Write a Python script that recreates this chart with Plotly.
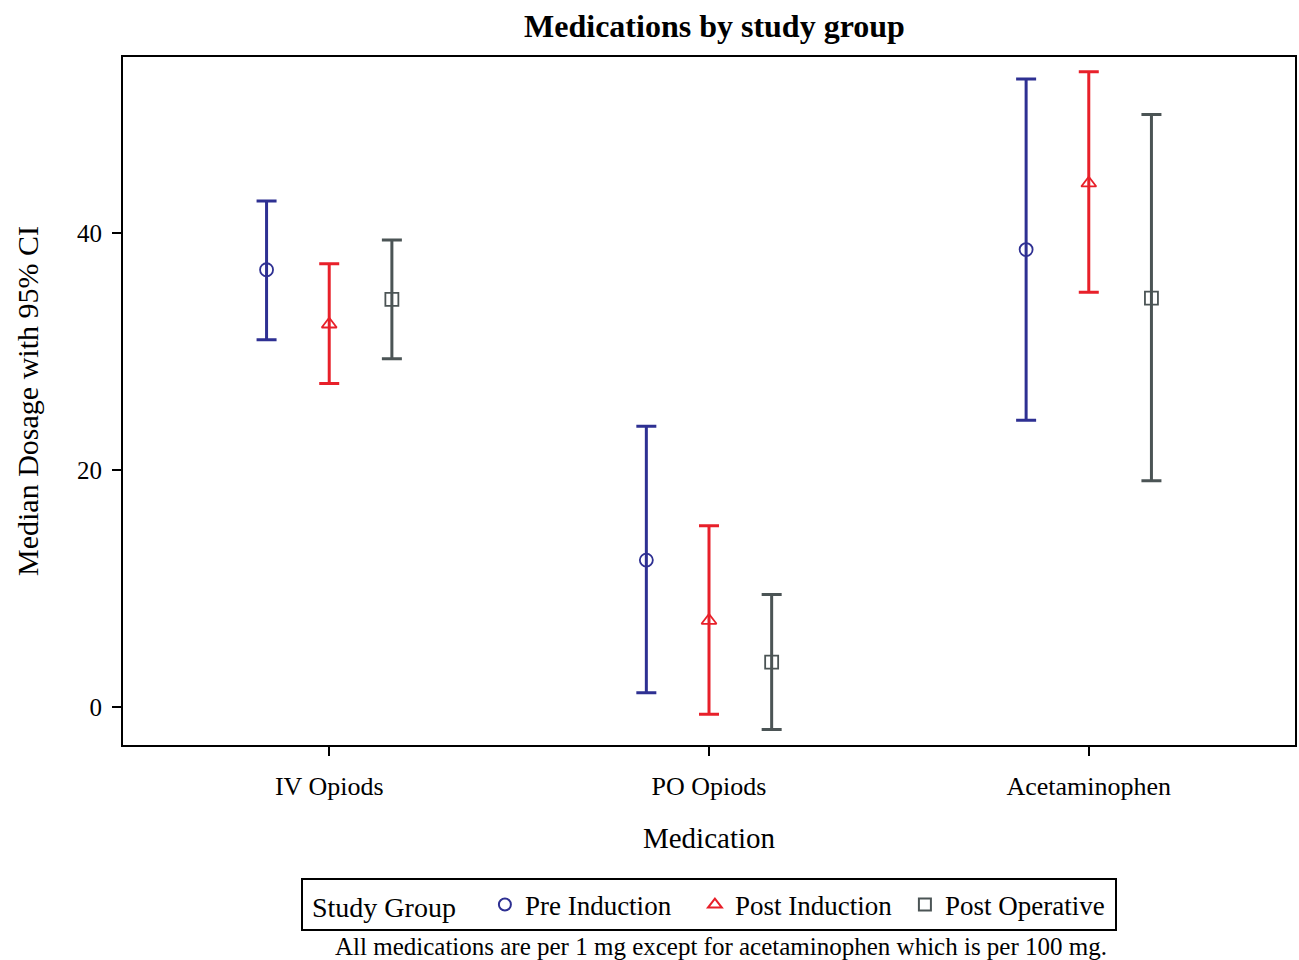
import plotly.graph_objects as go

categories = ["IV Opiods", "PO Opiods", "Acetaminophen"]
groups = ["Pre Induction", "Post Induction", "Post Operative"]

pre_median = [36.9, 12.4, 38.6]
pre_lower = [31.0, 1.2, 24.2]
pre_upper = [42.7, 23.7, 53.0]

post_median = [32.3, 7.3, 44.2]
post_lower = [27.3, -0.6, 35.0]
post_upper = [37.4, 15.3, 53.6]

postop_median = [34.4, 3.8, 34.5]
postop_lower = [29.4, -1.9, 19.1]
postop_upper = [39.4, 9.5, 50.0]

y_ticks = [0, 20, 40]

series = [
    (groups[0], pre_median, pre_lower, pre_upper, "#2E3092", "circle-open", -0.165),
    (groups[1], post_median, post_lower, post_upper, "#E8202A", "triangle-up-open", 0.0),
    (groups[2], postop_median, postop_lower, postop_upper, "#4B5455", "square-open", 0.165),
]

FONT = "Liberation Serif"
fig = go.Figure()
for name, med, lo, hi, color, sym, off in series:
    xs = [i + off for i in range(len(categories))]
    fig.add_trace(go.Scatter(
        x=xs, y=med, mode="markers", name=name,
        marker=dict(symbol=sym, size=13, color=color, line=dict(width=1.8, color=color)),
        error_y=dict(type="data", symmetric=False,
                     array=[h - m for h, m in zip(hi, med)],
                     arrayminus=[m - l for m, l in zip(med, lo)],
                     color=color, thickness=3, width=10),
    ))

fig.update_layout(
    width=1299, height=960,
    margin=dict(l=123, r=2, t=57, b=215),
    paper_bgcolor="white", plot_bgcolor="white",
    font=dict(family=FONT, color="black"),
    title=dict(text="<b>Medications by study group</b>", x=0.55, xanchor="center",
               y=0.973, yanchor="middle", font=dict(size=32, family=FONT)),
    xaxis=dict(range=[-0.543, 2.543], tickmode="array", tickvals=list(range(len(categories))),
               ticktext=categories, showgrid=False, zeroline=False,
               showline=True, linecolor="black", linewidth=2, mirror=True,
               ticks="outside", ticklen=9, tickwidth=2, tickcolor="black",
               tickfont=dict(size=26), ticklabelstandoff=8,
               title=dict(text="Medication", font=dict(size=29), standoff=27)),
    yaxis=dict(range=[-3.2, 54.85], tickmode="array", tickvals=y_ticks,
               showgrid=False, zeroline=False,
               showline=True, linecolor="black", linewidth=2, mirror=True,
               ticks="outside", ticklen=9, tickwidth=2, tickcolor="black",
               tickfont=dict(size=25), ticklabelstandoff=5,
               title=dict(text="Median Dosage with 95% CI", font=dict(size=30), standoff=30)),
    legend=dict(orientation="h", x=0.5, xanchor="center", y=-0.194, yanchor="top",
                bordercolor="black", borderwidth=2, bgcolor="white",
                font=dict(size=27), entrywidth=165, entrywidthmode="pixels",
                title=dict(text="&nbsp;Study Group&nbsp;&nbsp;&nbsp;", font=dict(size=28), side="left"),
                itemsizing="constant", tracegroupgap=0),
    showlegend=True,
)

fig.add_annotation(text="All medications are per 1 mg except for acetaminophen which is per 100 mg.",
                   xref="paper", yref="paper", x=0.51, y=-0.2936, xanchor="center", yanchor="middle",
                   showarrow=False, font=dict(size=25, family=FONT))

fig.write_html("out.html", config={"displayModeBar": False},
               post_script="document.body.style.margin='0';")
